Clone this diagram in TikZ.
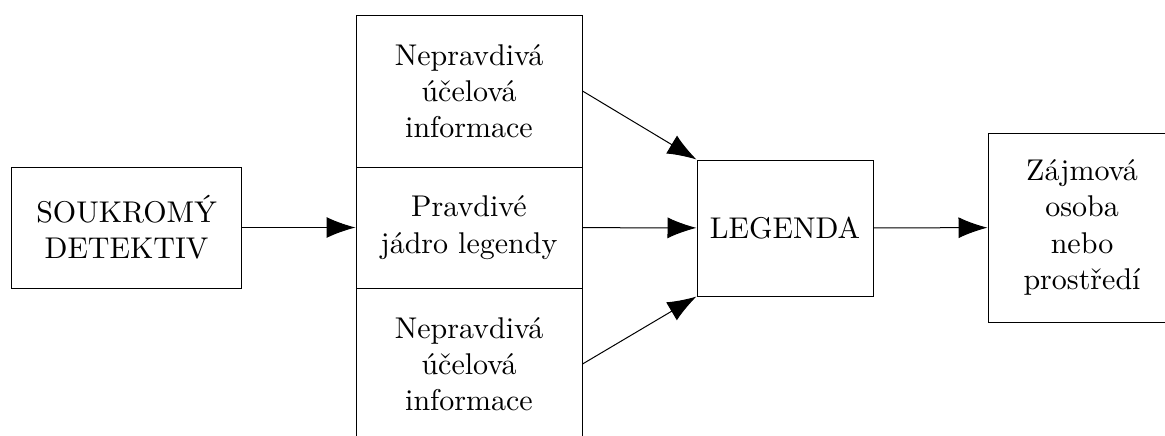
\documentclass[12pt,tikz,border=0pt]{standalone}
\usepackage{fontspec}
\setmainfont{lmroman10-regular.otf}
\usetikzlibrary{arrows.meta}

\begin{document}
\begin{tikzpicture}[x=0.4pt, y=-0.4pt,
    box/.style={draw, align=center, inner sep=0pt},
    sip/.style={-{Latex[length=11.6pt, width=8.4pt]}}]

    % Frame of the picture
    \clip (0,0) rectangle (1165,435);

    % Sizes of the boxes
    \def\stackw{90.4pt}
    \def\outh{60.8pt}
    \def\midh{48.4pt}

    % Detective
    \node[box, minimum width=91.6pt, minimum height=\midh] (det) at (126.5,227.5) {SOUKROMÝ\\DETEKTIV};

    % Stack of information
    \node[box, minimum width=\stackw, minimum height=\outh] (nepr1) at (469,91) {Nepravdivá\\účelová\\informace};
    \node[box, minimum width=\stackw, minimum height=\midh] (jadro) at (469,227.5) {Pravdivé\\jádro legendy};
    \node[box, minimum width=\stackw, minimum height=\outh] (nepr2) at (469,364) {Nepravdivá\\účelová\\informace};

    % Legend
    \node[box, minimum width=70.4pt, minimum height=54.4pt] (leg) at (785,228) {LEGENDA};

    % Target
    \node[box, minimum width=75.2pt, minimum height=75.6pt] (osoba) at (1082,227.5) {Zájmová\\osoba\\nebo\\prostředí};

    % Arrows
    \draw[sip] (det) -- (jadro);
    \draw[sip] (nepr1.east) -- (leg.north west);
    \draw[sip] (jadro) -- (leg);
    \draw[sip] (nepr2.east) -- (leg.south west);
    \draw[sip] (leg) -- (osoba);

\end{tikzpicture}
\end{document}
